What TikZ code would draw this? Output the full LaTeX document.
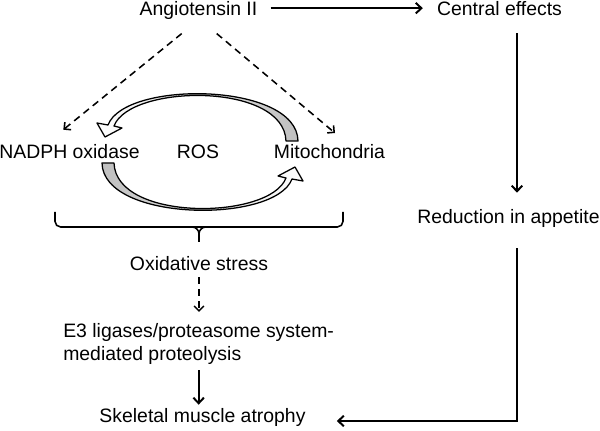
\documentclass[tikz,border=0pt]{standalone}
\usepackage{fontspec}
\setmainfont{Liberation Sans}
\usetikzlibrary{calc,arrows.meta}

\begin{document}
\begin{tikzpicture}[x=0.025cm,y=-0.025cm,
  lbl/.style={inner sep=0pt,font=\fontsize{13.8}{16.7}\selectfont},
  one/.style={lbl,text height=0.35cm,text depth=0.1cm,anchor=base},
  arr/.style={line width=1.4pt,-{Straight Barb[length=4pt,width=7.5pt]}},
  dasharr/.style={line width=1.1pt,dash pattern=on 5pt off 3.5pt,-{Straight Barb[length=3.5pt,width=7pt]}},
  band/.style={line width=0.9pt,line join=round}]
\useasboundingbox (0,0) rectangle (600,431);

\node[one] (ang) at (198.5,16) {Angiotensin II};
\node[one] (cent) at (499.5,16) {Central effects};
\node[one] (nadph) at (69.5,159) {NADPH oxidase};
\node[one] (ros) at (198,159) {ROS};
\node[one] (mito) at (329.5,159) {Mitochondria};
\node[one] (red) at (508.5,224) {Reduction in appetite};
\node[one] (ox) at (199,271) {Oxidative stress};
\node[lbl,anchor=north west,align=left] (e3) at (63,323) {E3 ligases/proteasome system-\\mediated proteolysis};
\node[one] (skel) at (202.5,423) {Skeletal muscle atrophy};
\coordinate (turn) at (517,421);

% central pathway
\draw[arr,shorten <=0.325cm,shorten >=0.35cm] ([yshift=2pt]ang.east) -- ([yshift=2pt]cent.west);
\draw[arr,shorten <=0.325cm,shorten >=0.425cm] (cent.south -| turn) -- (red.north -| turn);
\draw[arr,shorten <=0.5cm,shorten >=0.775cm] (red.south -| turn) -- (turn) -- (skel.east |- turn);

% ROS pathway
\draw[dasharr] ($(ang.south)+(-16.8,13.3)$) -- ($(nadph.north)+(-6.2,-15)$);
\draw[dasharr] ($(ang.south)+(18.2,13.3)$) -- ($(mito.north)+(5.5,-11.7)$);

\draw[band,left color=white,right color=black!25]
  (298,141) .. controls (297,82) and (125,80) .. (108,125)
  -- (97,123) -- (105,137) -- (122,128) -- (114,126)
  .. controls (130,84) and (284,82) .. (286,141) -- cycle;
\draw[band,left color=black!25,right color=white]
  (102,163) .. controls (103,222) and (275,224) .. (292,179)
  -- (303,181) -- (295,167) -- (278,176) -- (286,178)
  .. controls (270,220) and (116,222) .. (114,163) -- cycle;

% brace
\draw[line width=1.1pt,rounded corners=4pt] (55,212) -- (55,227) -- (343,227) -- (343,212);
\draw[line width=1.1pt] (192,227) to[out=0,in=90] (199,234) -- (199,242);
\draw[line width=1.1pt] (206,227) to[out=180,in=90] (199,234);

\draw[dasharr,shorten <=0.05cm,shorten >=0.275cm] (ox.south) -- (ox.south |- e3.north);
\draw[arr,shorten <=0.125cm,shorten >=0.1cm] (e3.south) -- (e3.south |- skel.north);

\end{tikzpicture}
\end{document}
